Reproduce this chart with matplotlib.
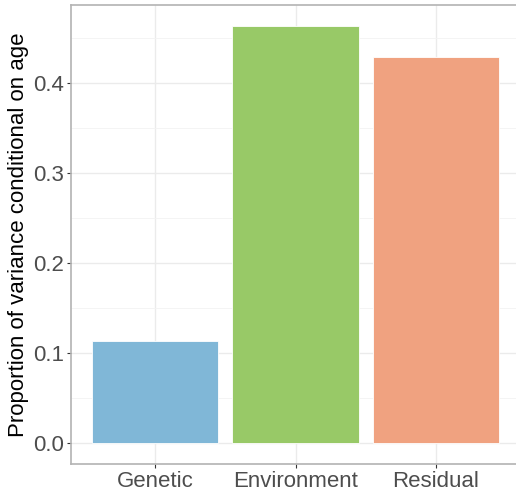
import matplotlib
matplotlib.use("Agg")
import matplotlib.pyplot as plt
import numpy as np

plt.rcParams['font.family'] = ['Liberation Sans', 'DejaVu Sans']

categories = ["Genetic", "Environment", "Residual"]
values = [0.1137, 0.464, 0.4292]
colors = ["#80B7D7", "#98C967", "#F0A280"]
yticks = [0.0, 0.1, 0.2, 0.3, 0.4]

fig = plt.figure(figsize=(5.16, 4.92), dpi=100)
ax = fig.add_axes([71/516, 28/492, 449/516, 459/492])

x = np.arange(1, len(categories) + 1)
ax.bar(x, values, width=0.9, color=colors, edgecolor="white", linewidth=0.6, zorder=3)

ymax = max(values)
ax.set_ylim(-0.05 * ymax, ymax * 1.05)
ax.set_xlim(0.4, len(categories) + 0.6)

ax.set_yticks(yticks)
ax.set_yticklabels([f"{t:.1f}" for t in yticks])
ax.set_yticks([0.05, 0.15, 0.25, 0.35, 0.45], minor=True)
ax.set_xticks(x)
ax.set_xticklabels(categories)

ax.grid(True, which="major", color="#EBEBEB", linewidth=1.0, zorder=0)
ax.grid(True, which="minor", axis="y", color="#F3F3F3", linewidth=0.6, zorder=0)
ax.tick_params(which="minor", length=0)
ax.tick_params(which="major", length=3, color="#333333", width=0.8,
               labelsize=16, labelcolor="#4D4D4D", pad=2)
for s in ax.spines.values():
    s.set_color("#B3B3B3")
    s.set_linewidth(1.2)

ax.set_ylabel("Proportion of variance conditional on age", fontsize=16, color="black", labelpad=3)

fig.savefig("out.png", dpi=100)
